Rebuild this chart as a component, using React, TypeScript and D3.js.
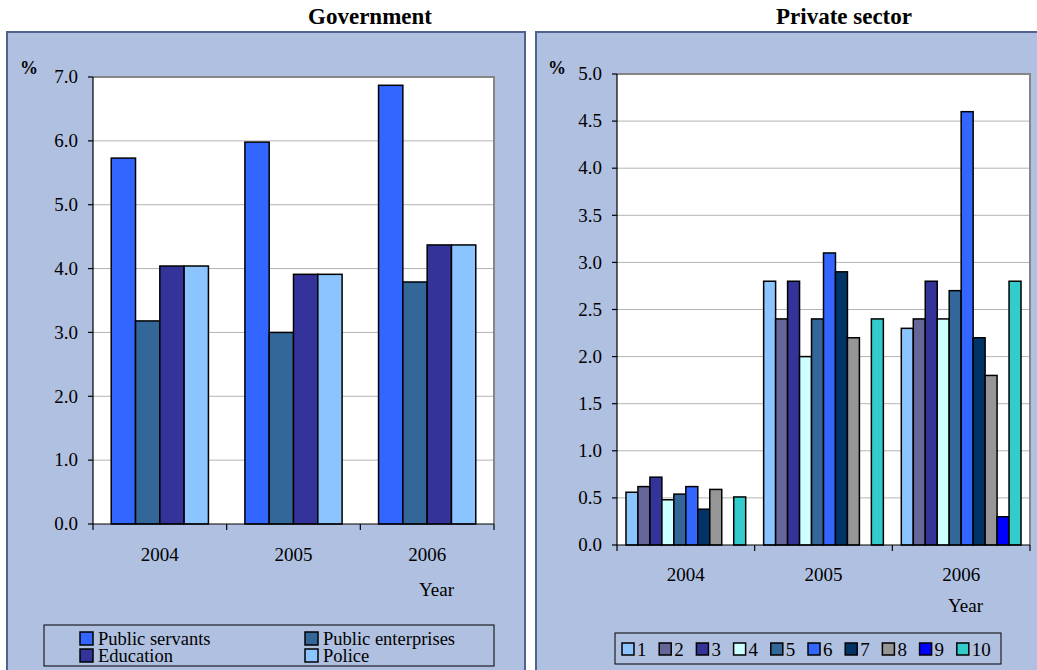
import * as d3 from "d3";

const years = ["2004", "2005", "2006"];

// Government panel
const govSeries = ["Public servants", "Public enterprises", "Education", "Police"];
const govColors = ["#3366FF", "#336699", "#333399", "#8CC4FF"];
const govPublicServants = [5.73, 5.98, 6.87];
const govPublicEnterprises = [3.18, 3.0, 3.79];
const govEducation = [4.04, 3.91, 4.37];
const govPolice = [4.04, 3.91, 4.37];
const govTicks = [0, 1, 2, 3, 4, 5, 6, 7];

// Private sector panel (series 1..10, 9 missing in 2004/2005)
const privSeries = ["1", "2", "3", "4", "5", "6", "7", "8", "9", "10"];
const privColors = [
  "#8CC4FF", "#666699", "#333399", "#CCFFFF", "#336699",
  "#3366FF", "#003366", "#969696", "#0000FF", "#33CCCC",
];
const priv2004 = [0.56, 0.62, 0.72, 0.48, 0.54, 0.62, 0.38, 0.59, null, 0.51];
const priv2005 = [2.8, 2.4, 2.8, 2.0, 2.4, 3.1, 2.9, 2.2, null, 2.4];
const priv2006 = [2.3, 2.4, 2.8, 2.4, 2.7, 4.6, 2.2, 1.8, 0.3, 2.8];
const privTicks = [0, 0.5, 1, 1.5, 2, 2.5, 3, 3.5, 4, 4.5, 5];

const panelFill = "#B0C0E0";
const panelStroke = "#52628F";
const font = "'Liberation Serif', 'Times New Roman', serif";

interface PanelProps {
  x0: number;
  x1: number;
  yTop: number;
  yBottom: number;
  max: number;
  ticks: number[];
  rows: (number | null)[][]; // rows[yearIndex][seriesIndex]
  series: string[];
  colors: string[];
  catLabelDy: number;
}

function BarPanel({ x0, x1, yTop, yBottom, max, ticks, rows, series, colors, catLabelDy }: PanelProps) {
  const y = d3.scaleLinear([0, max], [yBottom, yTop]);
  const xGroup = d3.scaleBand(years, [x0, x1]).padding(0);
  const bw = xGroup.bandwidth();
  const barW = bw / (series.length + 1.5);
  const xInner = d3
    .scaleBand(series, [barW * 0.75, bw - barW * 0.75])
    .padding(0);
  const boundaries = [...years.map((yr) => xGroup(yr) ?? 0), x1];

  return (
    <g>
      <rect x={x0} y={yTop} width={x1 - x0} height={yBottom - yTop} fill="#fff" />
      {ticks.slice(1, -1).map((t) => (
        <line key={t} x1={x0} x2={x1} y1={y(t)} y2={y(t)} stroke="#b4b4b4" strokeWidth={1} />
      ))}
      <path d={`M${x0},${yTop}H${x1}V${yBottom}`} fill="none" stroke="#868686" strokeWidth={2} />
      {rows.map((vals, yi) =>
        vals.map((v, si) =>
          v == null ? null : (
            <rect
              key={`${yi}-${si}`}
              x={(xGroup(years[yi]) ?? 0) + (xInner(series[si]) ?? 0)}
              y={y(v)}
              width={xInner.bandwidth()}
              height={y(0) - y(v)}
              fill={colors[si]}
              stroke="#000"
              strokeWidth={1.5}
            />
          )
        )
      )}
      {/* axes */}
      <line x1={x0} x2={x0} y1={yTop} y2={yBottom} stroke="#000" strokeWidth={1.2} />
      <line x1={x0} x2={x1} y1={yBottom} y2={yBottom} stroke="#000" strokeWidth={1.2} />
      {ticks.map((t) => (
        <g key={t}>
          <line x1={x0 - 5} x2={x0} y1={y(t)} y2={y(t)} stroke="#000" strokeWidth={1.2} />
          <text
            x={x0 - 15}
            y={y(t)}
            dy="0.33em"
            textAnchor="end"
            fontFamily={font}
            fontSize={19}
          >
            {t.toFixed(1)}
          </text>
        </g>
      ))}
      {boundaries.map((b, i) => (
        <line key={i} x1={b} x2={b} y1={yBottom} y2={yBottom + 6} stroke="#000" strokeWidth={1.2} />
      ))}
      {years.map((yr) => (
        <text
          key={yr}
          x={(xGroup(yr) ?? 0) + bw / 2}
          y={yBottom + catLabelDy}
          textAnchor="middle"
          fontFamily={font}
          fontSize={19}
        >
          {yr}
        </text>
      ))}
    </g>
  );
}

export default function App() {
  const govRows = years.map((_, i) => [
    govPublicServants[i],
    govPublicEnterprises[i],
    govEducation[i],
    govPolice[i],
  ]);
  const privRows = [priv2004, priv2005, priv2006];

  return (
    <svg
      width={1037}
      height={670}
      style={{ position: "absolute", left: 0, top: 0, background: "#fff" }}
    >
      {/* titles */}
      <text x={370} y={24} textAnchor="middle" fontFamily={font} fontSize={23} fontWeight="bold">
        Government
      </text>
      <text x={844} y={24} textAnchor="middle" fontFamily={font} fontSize={23} fontWeight="bold">
        Private sector
      </text>

      {/* panels */}
      <rect x={7} y={32} width={518} height={650} fill={panelFill} stroke={panelStroke} strokeWidth={2} />
      <rect x={536} y={32} width={520} height={650} fill={panelFill} stroke={panelStroke} strokeWidth={2} />

      <text x={20} y={74} fontFamily={font} fontSize={18} fontWeight="bold">%</text>
      <text x={548} y={74} fontFamily={font} fontSize={18} fontWeight="bold">%</text>

      <BarPanel
        x0={93}
        x1={494}
        yTop={77}
        yBottom={524}
        max={7}
        ticks={govTicks}
        rows={govRows}
        series={govSeries}
        colors={govColors}
        catLabelDy={37}
      />
      <BarPanel
        x0={617}
        x1={1030}
        yTop={74}
        yBottom={545}
        max={5}
        ticks={privTicks}
        rows={privRows}
        series={privSeries}
        colors={privColors}
        catLabelDy={36}
      />

      <text x={419} y={596} fontFamily={font} fontSize={19}>Year</text>
      <text x={948} y={612} fontFamily={font} fontSize={19}>Year</text>

      {/* government legend */}
      <rect x={44} y={625} width={450} height={41} fill="none" stroke="#000" strokeWidth={1} />
      {govSeries.map((s, i) => {
        const col = i % 2;
        const row = Math.floor(i / 2);
        const sx = col === 0 ? 80 : 305;
        const sy = row === 0 ? 632 : 649;
        return (
          <g key={s}>
            <rect x={sx} y={sy} width={13} height={13} fill={govColors[i]} stroke="#000" strokeWidth={1.5} />
            <text x={sx + 18} y={sy + 12.5} fontFamily={font} fontSize={18.5}>
              {s}
            </text>
          </g>
        );
      })}

      {/* private legend */}
      <rect x={615} y={633} width={386} height={31} fill="none" stroke="#000" strokeWidth={1} />
      {privSeries.map((s, i) => {
        const sx = 622 + i * 37.2;
        return (
          <g key={s}>
            <rect x={sx} y={643} width={12} height={12} fill={privColors[i]} stroke="#000" strokeWidth={1.5} />
            <text x={sx + 15} y={656} fontFamily={font} fontSize={19}>
              {s}
            </text>
          </g>
        );
      })}
    </svg>
  );
}
